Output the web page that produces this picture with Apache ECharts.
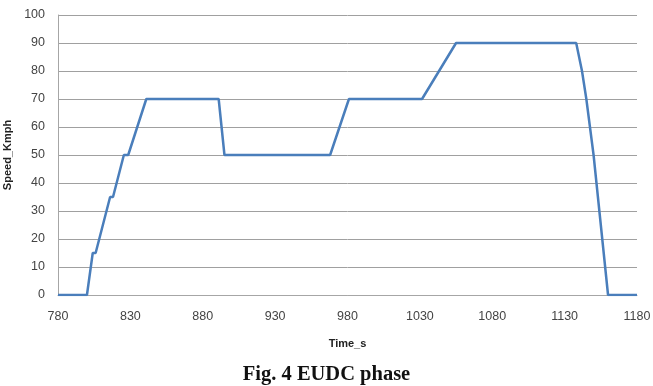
<!DOCTYPE html>
<html>
<head>
<meta charset="utf-8">
<script src="https://cdn.jsdelivr.net/npm/echarts@6/dist/echarts.min.js"></script>
<style>
  html, body { margin: 0; padding: 0; background: #fff; }
  #chart { width: 653px; height: 386px; }
</style>
</head>
<body>
<div id="chart"></div>
<script>
// EUDC speed trace
const timeS = [780, 800, 804, 806, 816, 818, 825.5, 828.5, 841, 891, 895, 968, 981, 1031.5, 1055, 1138, 1142, 1145, 1150, 1160, 1180];
const speedKmph = [0, 0, 15, 15, 35, 35, 50, 50, 70, 70, 50, 50, 70, 70, 90, 90, 80, 70, 50, 0, 0];

var myChart = echarts.init(document.getElementById("chart"));

const option = {
  animation: false,
  title: {
    text: "Fig. 4 EUDC phase",
    left: "center",
    top: 364,
    padding: 0,
    textStyle: {
      fontFamily: "Liberation Serif",
      fontWeight: "bold",
      fontSize: 20.5,
      color: "#111",
    },
  },
  grid: {
    left: 58,
    right: 16,
    top: 15,
    bottom: 91,
    outerBoundsMode: "none",
  },
  xAxis: {
    type: "value",
    min: 780,
    max: 1180,
    interval: 50,
    name: "Time_s",
    nameLocation: "middle",
    nameGap: 43,
    nameTextStyle: {
      fontFamily: "Liberation Sans",
      fontWeight: "bold",
      fontSize: 11,
      color: "#222",
    },
    axisLine: { show: true, lineStyle: { color: "#a6a6a6", width: 1 } },
    axisTick: { show: false },
    splitLine: { show: false },
    axisLabel: {
      margin: 15,
      fontFamily: "Liberation Sans",
      fontSize: 12.5,
      color: "#444",
      formatter: (v) => String(v),
    },
  },
  yAxis: {
    type: "value",
    min: 0,
    max: 100,
    interval: 10,
    name: "Speed_Kmph",
    nameLocation: "middle",
    nameGap: 43,
    nameTextStyle: {
      fontFamily: "Liberation Sans",
      fontWeight: "bold",
      fontSize: 11,
      color: "#222",
    },
    axisLine: { show: true, lineStyle: { color: "#a6a6a6", width: 1 } },
    axisTick: { show: false },
    splitLine: { show: true, lineStyle: { color: "#a0a0a0", width: 1 } },
    axisLabel: {
      margin: 13,
      fontFamily: "Liberation Sans",
      fontSize: 12.5,
      color: "#444",
    },
  },
  series: [
    {
      name: "Speed",
      type: "line",
      data: timeS.map((t, i) => [t, speedKmph[i]]),
      showSymbol: false,
      lineStyle: { color: "#4a7ebb", width: 2.5 },
    },
  ],
};

myChart.setOption(option);
</script>
</body>
</html>
